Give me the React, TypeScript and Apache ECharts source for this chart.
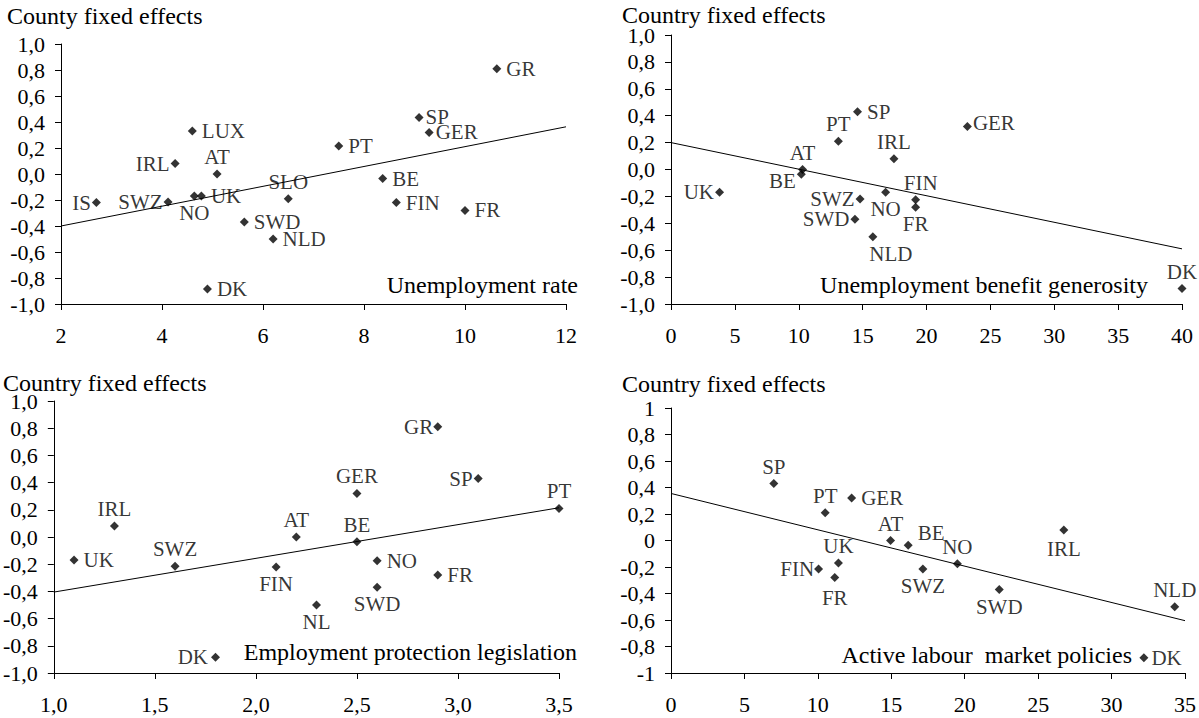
import React, { useEffect, useRef } from 'react';
import * as echarts from 'echarts';

const FONT = 'Liberation Serif, Times New Roman, serif';

// Panel 1: unemployment rate
const p1Names = ['IS', 'SWZ', 'NO', 'UK', 'IRL', 'LUX', 'AT', 'DK', 'SWD', 'NLD', 'SLO', 'PT', 'BE', 'FIN', 'SP', 'GER', 'FR', 'GR'];
const p1X = [2.7, 4.12, 4.64, 4.78, 4.26, 4.6, 5.09, 4.9, 5.63, 6.2, 6.5, 7.5, 8.37, 8.64, 9.09, 9.29, 10.0, 10.63];
const p1Y = [-0.22, -0.215, -0.17, -0.17, 0.08, 0.33, 0.0, -0.885, -0.37, -0.5, -0.19, 0.215, -0.035, -0.22, 0.435, 0.32, -0.28, 0.81];
const p1TrendX = [2, 12];
const p1TrendY = [-0.4, 0.363];

// Panel 2: unemployment benefit generosity
const p2Names = ['UK', 'BE', 'AT', 'PT', 'SWD', 'SP', 'SWZ', 'NLD', 'NO', 'IRL', 'FIN', 'FR', 'GER', 'DK'];
const p2X = [3.8, 10.2, 10.3, 13.1, 14.4, 14.6, 14.8, 15.8, 16.8, 17.45, 19.15, 19.15, 23.2, 40];
const p2Y = [-0.17, -0.035, 0.0, 0.21, -0.37, 0.43, -0.22, -0.5, -0.17, 0.08, -0.225, -0.28, 0.32, -0.885];
const p2TrendX = [0, 40];
const p2TrendY = [0.2, -0.59];

// Panel 3: employment protection legislation
const p3Names = ['UK', 'IRL', 'SWZ', 'DK', 'FIN', 'AT', 'NL', 'GER', 'BE', 'NO', 'SWD', 'GR', 'FR', 'SP', 'PT'];
const p3X = [1.1, 1.3, 1.6, 1.8, 2.1, 2.2, 2.3, 2.5, 2.5, 2.6, 2.6, 2.9, 2.9, 3.1, 3.5];
const p3Y = [-0.17, 0.08, -0.215, -0.885, -0.22, 0.0, -0.5, 0.32, -0.035, -0.175, -0.37, 0.81, -0.28, 0.43, 0.21];
const p3TrendX = [1.0, 3.5];
const p3TrendY = [-0.405, 0.215];

// Panel 4: active labour market policies
const p4Names = ['SP', 'FIN', 'PT', 'FR', 'UK', 'GER', 'AT', 'BE', 'SWZ', 'NO', 'SWD', 'IRL', 'DK', 'NLD'];
const p4X = [7.0, 10.05, 10.5, 11.15, 11.4, 12.3, 14.95, 16.15, 17.15, 19.5, 22.35, 26.75, 32.2, 34.3];
const p4Y = [0.43, -0.215, 0.21, -0.28, -0.17, 0.32, 0.0, -0.035, -0.215, -0.175, -0.37, 0.08, -0.885, -0.5];
const p4TrendX = [0, 35];
const p4TrendY = [0.355, -0.605];

const yTitles = ['County fixed effects', 'Country fixed effects', 'Country fixed effects', 'Country fixed effects'];
const xTitles = ['Unemployment rate', 'Unemployment benefit generosity', 'Employment protection legislation', 'Active labour  market policies'];

// label placement (style): [position, distance?, dx?, dy?]
const place1: Record<string, any[]> = {
  IS: ['left'], SWZ: ['left'], IRL: ['left'], AT: ['top'], NO: ['bottom'], SLO: ['top'], SP: ['right', 2],
  GER: ['right', 2],
};
const place2: Record<string, any[]> = {
  UK: ['left'], AT: ['top'], BE: ['left', 1, 0, 7], PT: ['top'], IRL: ['top'], FIN: ['top', 2, 5, 0],
  FR: ['bottom'], NO: ['bottom'], SWZ: ['left'], SWD: ['left'], NLD: ['bottom', 2, 18, 0], DK: ['top'],
  GER: ['right', 1, 0, -3],
};
const place3: Record<string, any[]> = {
  IRL: ['top'], SWZ: ['top'], FIN: ['bottom'], DK: ['left', 3], AT: ['top'], GR: ['left', 0], GER: ['top'],
  SP: ['left'], PT: ['top'], BE: ['top'], SWD: ['bottom'], NL: ['bottom'],
};
const place4: Record<string, any[]> = {
  SP: ['top'], PT: ['top'], AT: ['top'], UK: ['top'], FIN: ['left', 0], FR: ['bottom', 5], BE: ['right', 5, 0, -12],
  NO: ['top'], SWZ: ['bottom'], SWD: ['bottom'], IRL: ['bottom', 4], NLD: ['top'], DK: ['right', 3],
};

const defaultDist: Record<string, number> = { right: 5, left: 1, top: 2, bottom: 2 };

function points(names: string[], xs: number[], ys: number[], place: Record<string, any[]>) {
  return names.map((n, i) => {
    const p = place[n] || ['right'];
    const pos = p[0];
    const dist = p[1] !== undefined ? p[1] : defaultDist[pos];
    return {
      name: n,
      value: [xs[i], ys[i]],
      label: { position: pos, distance: dist, offset: [p[2] || 0, p[3] || 0] },
    };
  });
}

function commaFmt(v: number) {
  let r = Math.round(v * 10) / 10;
  if (Object.is(r, -0)) r = 0;
  return r.toFixed(1).replace('.', ',');
}
function shortFmt(v: number) {
  let r = Math.round(v * 10) / 10;
  if (Object.is(r, -0)) r = 0;
  return Number.isInteger(r) ? String(r) : r.toFixed(1).replace('.', ',');
}
function intFmt(v: number) {
  return String(Math.round(v));
}

const grids = [
  { left: 61, top: 44, width: 505, height: 260 },
  { left: 671, top: 35, width: 511, height: 269 },
  { left: 53, top: 401, width: 506, height: 272 },
  { left: 671, top: 408, width: 517, height: 265 },
];

const axisCommon = {
  axisLine: { onZero: false, lineStyle: { color: '#000', width: 1 } },
  axisTick: { length: 6, lineStyle: { color: '#000', width: 1 } },
  splitLine: { show: false },
};

export default function App() {
  const ref = useRef<HTMLDivElement>(null);
  useEffect(() => {
    if (!ref.current) return;
    const chart = echarts.init(ref.current, undefined, { renderer: 'svg' });
    const xSpecs = [
      { min: 2, max: 12, interval: 2, fmt: intFmt },
      { min: 0, max: 40, interval: 5, fmt: intFmt },
      { min: 1, max: 3.5, interval: 0.5, fmt: commaFmt },
      { min: 0, max: 35, interval: 5, fmt: intFmt },
    ];
    const yFmts = [commaFmt, commaFmt, commaFmt, shortFmt];
    const sets = [
      [p1Names, p1X, p1Y, place1, p1TrendX, p1TrendY],
      [p2Names, p2X, p2Y, place2, p2TrendX, p2TrendY],
      [p3Names, p3X, p3Y, place3, p3TrendX, p3TrendY],
      [p4Names, p4X, p4Y, place4, p4TrendX, p4TrendY],
    ] as any[];

    const series: any[] = [];
    sets.forEach((s, i) => {
      series.push({
        type: 'line',
        xAxisIndex: i,
        yAxisIndex: i,
        data: s[4].map((x: number, k: number) => [x, s[5][k]]),
        showSymbol: false,
        symbol: 'none',
        lineStyle: { color: '#000', width: 1 },
        silent: true,
        z: 1,
      });
      series.push({
        type: 'scatter',
        xAxisIndex: i,
        yAxisIndex: i,
        symbol: 'diamond',
        symbolSize: 9,
        clip: false,
        itemStyle: { color: '#000' },
        label: {
          show: true,
          formatter: '{b}',
          color: '#000',
          fontFamily: FONT,
          fontSize: 21,
        },
        data: points(s[0], s[1], s[2], s[3]),
        z: 3,
      });
    });

    const titlePos = [
      { x: 7, y: 16 },
      { x: 622, y: 15 },
      { x: 3, y: 383 },
      { x: 622, y: 384 },
    ];
    const annPos = [
      { x: 578, y: 285 },
      { x: 1148, y: 285 },
      { x: 577, y: 652 },
      { x: 1132, y: 655 },
    ];
    const graphic: any[] = [];
    titlePos.forEach((p, i) => {
      graphic.push({
        type: 'text', x: p.x, y: p.y, silent: true,
        style: { text: yTitles[i], fill: '#000', fontFamily: FONT, fontSize: 24, textAlign: 'left', textVerticalAlign: 'middle' },
      });
    });
    annPos.forEach((p, i) => {
      graphic.push({
        type: 'text', x: p.x, y: p.y, silent: true,
        style: { text: xTitles[i], fill: '#000', fontFamily: FONT, fontSize: 24, textAlign: 'right', textVerticalAlign: 'middle' },
      });
    });

    chart.setOption({
      animation: false,
      backgroundColor: '#fff',
      grid: grids.map((g) => ({ ...g, containLabel: false })),
      xAxis: xSpecs.map((x, i) => ({
        type: 'value',
        gridIndex: i,
        min: x.min,
        max: x.max,
        interval: x.interval,
        ...axisCommon,
        axisLabel: { color: '#000', fontFamily: FONT, fontSize: 22, margin: 20, formatter: x.fmt },
      })),
      yAxis: yFmts.map((f, i) => ({
        type: 'value',
        gridIndex: i,
        min: -1,
        max: 1,
        interval: 0.2,
        ...axisCommon,
        axisLabel: { color: '#000', fontFamily: FONT, fontSize: 22, margin: 16, formatter: f },
      })),
      series,
      graphic,
    });
    return () => chart.dispose();
  }, []);
  return <div ref={ref} style={{ position: 'fixed', left: 0, top: 0, width: 1199, height: 718 }} />;
}
